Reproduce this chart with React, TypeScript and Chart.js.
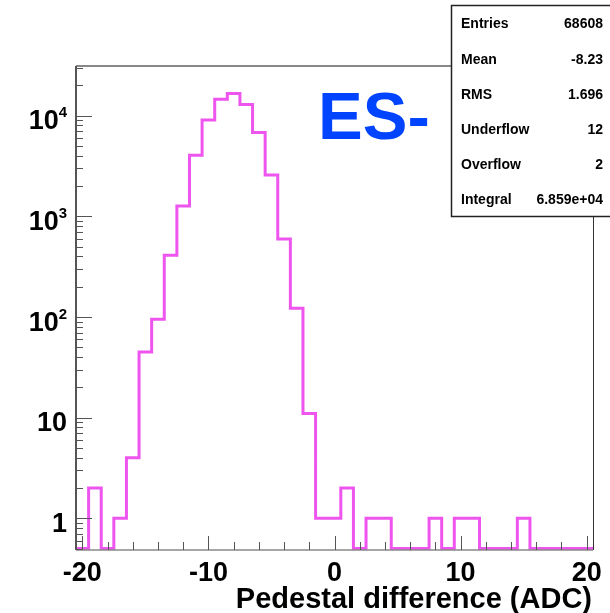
import { useEffect, useRef } from 'react';
import { Chart, registerables } from 'chart.js';

Chart.register(...registerables);

// ---- data ----
const binCenters = [
  -20, -19, -18, -17, -16, -15, -14, -13, -12, -11, -10, -9, -8, -7, -6, -5, -4, -3, -2, -1,
  0, 1, 2, 3, 4, 5, 6, 7, 8, 9, 10, 11, 12, 13, 14, 15, 16, 17, 18, 19, 20,
];
const counts = [
  0, 2, 0, 1, 4, 45, 95, 410, 1270, 4050, 9080, 14600, 16600, 12900, 6800, 2570, 595, 122, 11, 1,
  1, 2, 0, 1, 1, 0, 0, 0, 1, 0, 1, 1, 0, 0, 0, 1, 0, 0, 0, 0, 0,
];
const BIN_WIDTH = 1;

const xTickValues = [-20, -10, 0, 10, 20];
const xTickLabels = ['-20', '-10', '0', '10', '20'];
const yTickValues = [1, 10, 100, 1000, 10000];
const yTickLabels = ['1', '10', '10^2', '10^3', '10^4'];

const statLabels = ['Entries', 'Mean', 'RMS', 'Underflow', 'Overflow', 'Integral'];
const statValues = ['68608', '-8.23', '1.696', '12', '2', '6.859e+04'];

const plotLabel = 'ES-';
const xTitle = 'Pedestal difference (ADC)';

const X_MIN = -20.5;
const X_MAX = 20.5;
const Y_MIN = 0.484;
const Y_MAX = 31200;
const ZERO_FLOOR = 0.5;

const FONT = '"Liberation Sans", Arial, Helvetica, sans-serif';

const rootStyle = {
  id: 'rootStyle',
  beforeDraw(chart: any) {
    const ctx = chart.ctx;
    ctx.save();
    ctx.fillStyle = '#ffffff';
    ctx.fillRect(0, 0, chart.width, chart.height);
    ctx.restore();
  },
  afterDatasetsDraw(chart: any) {
    const ctx = chart.ctx;
    const xs = chart.scales.x;
    const ys = chart.scales.y;
    const { left, right, top, bottom } = chart.chartArea;
    ctx.save();

    // frame
    ctx.lineCap = 'butt';
    ctx.strokeStyle = '#888';
    ctx.lineWidth = 2;
    ctx.beginPath();
    ctx.moveTo(left, top);
    ctx.lineTo(right, top);
    ctx.stroke();
    ctx.lineWidth = 1.5;
    ctx.beginPath();
    ctx.moveTo(left, bottom);
    ctx.lineTo(right, bottom);
    ctx.stroke();
    ctx.strokeStyle = '#555';
    ctx.lineWidth = 2;
    ctx.beginPath();
    ctx.moveTo(left, top);
    ctx.lineTo(left, bottom);
    ctx.stroke();
    ctx.strokeStyle = '#333';
    ctx.lineWidth = 1;
    ctx.beginPath();
    ctx.moveTo(right + 0.5, top);
    ctx.lineTo(right + 0.5, bottom);
    ctx.stroke();

    // x ticks
    ctx.strokeStyle = '#555';
    ctx.lineWidth = 1;
    for (let v = -20; v <= 20; v += 2) {
      const px = Math.round(xs.getPixelForValue(v)) + 0.5;
      const len = v % 10 === 0 ? 14 : 8;
      ctx.beginPath();
      ctx.moveTo(px, bottom);
      ctx.lineTo(px, bottom - len);
      ctx.stroke();
    }
    // y ticks (log)
    for (let d = -1; d <= 4; d++) {
      for (let m = 1; m <= 9; m++) {
        const v = m * Math.pow(10, d);
        if (v < Y_MIN || v > Y_MAX) continue;
        const py = Math.round(ys.getPixelForValue(v)) + 0.5;
        const len = m === 1 ? 16 : 7;
        ctx.beginPath();
        ctx.moveTo(left, py);
        ctx.lineTo(left + len, py);
        ctx.stroke();
      }
    }

    // y labels
    ctx.fillStyle = '#000';
    ctx.textBaseline = 'alphabetic';
    ctx.textAlign = 'right';
    yTickValues.forEach((v, i) => {
      const py = ys.getPixelForValue(v);
      const [base, exp] = yTickLabels[i].split('^');
      if (exp) {
        ctx.font = `bold 15px ${FONT}`;
        const ew = ctx.measureText(exp).width;
        ctx.fillText(exp, 67, py + 1.5);
        ctx.font = `bold 27px ${FONT}`;
        ctx.fillText(base, 67 - ew, py + 13.5);
      } else {
        ctx.font = `bold 27px ${FONT}`;
        ctx.fillText(base, 67, py + 13.5);
      }
    });

    // x labels
    ctx.textAlign = 'center';
    ctx.font = `bold 27px ${FONT}`;
    xTickValues.forEach((v, i) => {
      ctx.fillText(xTickLabels[i], xs.getPixelForValue(v), 581);
    });

    // x title
    ctx.textAlign = 'right';
    ctx.font = `bold 29px ${FONT}`;
    ctx.fillText(xTitle, 592, 608);

    // ES- label
    ctx.textAlign = 'left';
    ctx.fillStyle = '#0044ff';
    ctx.font = `bold 67px ${FONT}`;
    ctx.fillText(plotLabel, 318, 139);

    // stats box
    ctx.fillStyle = '#ffffff';
    ctx.fillRect(451.5, 5.5, 170, 211);
    ctx.strokeStyle = '#222';
    ctx.lineWidth = 1.5;
    ctx.strokeRect(451.5, 5.5, 170, 211);
    ctx.fillStyle = '#000';
    ctx.font = `bold 14px ${FONT}`;
    ctx.textBaseline = 'middle';
    statLabels.forEach((lab, i) => {
      const cy = 24.5 + 35.2 * i;
      ctx.textAlign = 'left';
      ctx.fillText(lab, 461, cy);
      ctx.textAlign = 'right';
      ctx.fillText(statValues[i], 603, cy);
    });

    ctx.restore();
  },
};

export default function App() {
  const ref = useRef<HTMLCanvasElement | null>(null);
  useEffect(() => {
    document.body.style.margin = '0';
    const canvas = ref.current;
    if (!canvas) return;
    const points = binCenters.flatMap((c, i) => {
      const v = counts[i] > 0 ? counts[i] : ZERO_FLOOR;
      return [
        { x: c - BIN_WIDTH / 2, y: v },
        { x: c + BIN_WIDTH / 2, y: v },
      ];
    });
    const chart = new Chart(canvas, {
      type: 'line',
      data: {
        datasets: [
          {
            data: points,
            borderColor: 'rgb(238,85,238)',
            borderWidth: 3,
            pointRadius: 0,
            tension: 0,
            fill: false,
            clip: 3,
            borderJoinStyle: 'miter',
            borderCapStyle: 'butt',
          } as any,
        ],
      },
      options: {
        animation: false,
        responsive: false,
        devicePixelRatio: 1,
        events: [],
        layout: { padding: { left: 76, right: 17, top: 66, bottom: 63 } },
        plugins: { legend: { display: false }, tooltip: { enabled: false } },
        scales: {
          x: { type: 'linear', min: X_MIN, max: X_MAX, display: false },
          y: { type: 'logarithmic', min: Y_MIN, max: Y_MAX, display: false },
        },
      },
      plugins: [rootStyle],
    });
    return () => chart.destroy();
  }, []);
  return <canvas ref={ref} width={610} height={613} style={{ display: 'block' }} />;
}
